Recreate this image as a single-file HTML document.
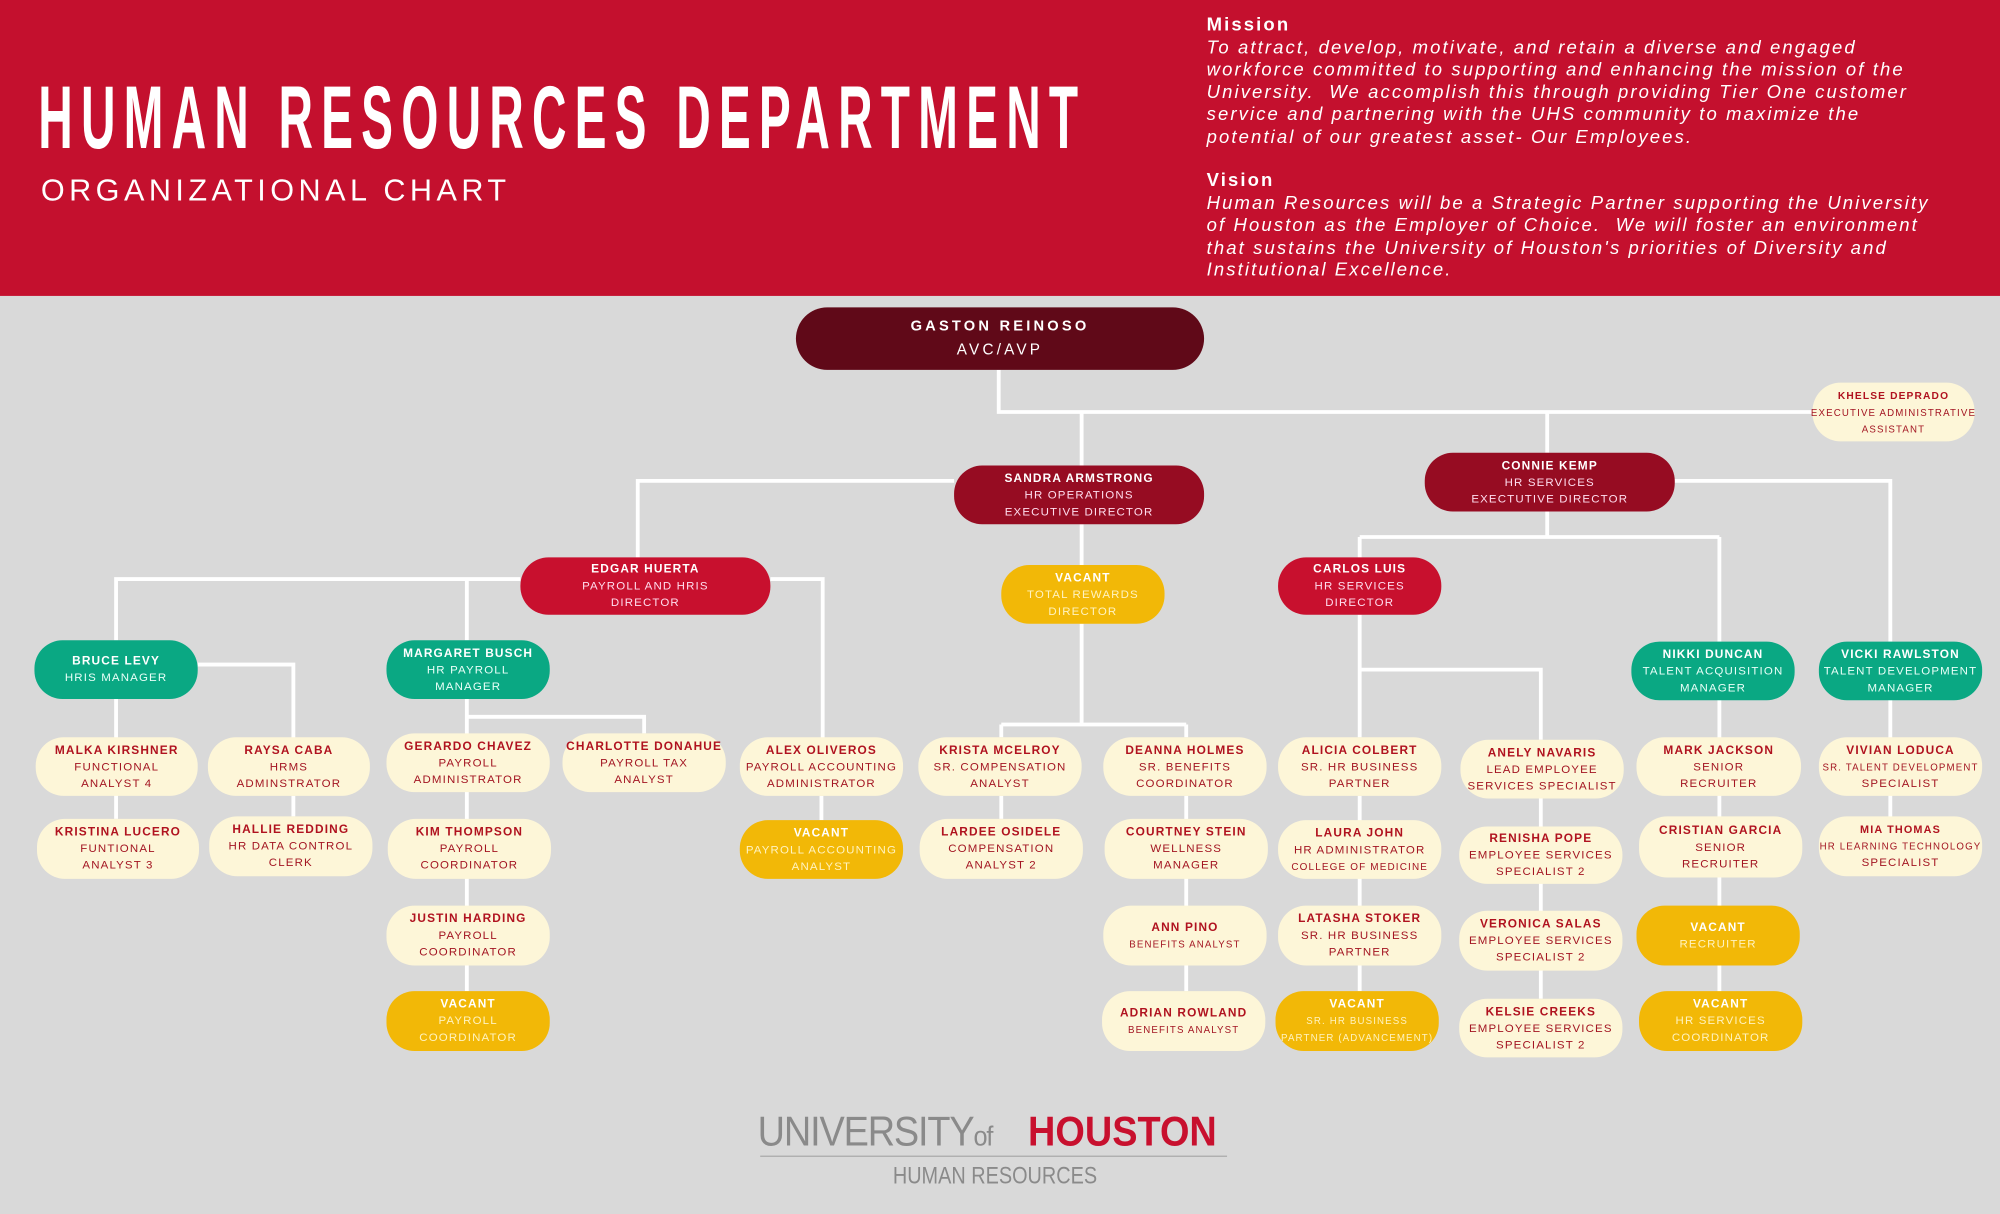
<!DOCTYPE html>
<html><head><meta charset="utf-8">
<style>
html,body{margin:0;padding:0;width:2000px;height:1214px;overflow:hidden;background:#d9d9d9}
#w{position:absolute;left:0;top:0;width:1568px;height:952px;transform:scale(1.27551);transform-origin:0 0;font-family:"Liberation Sans",sans-serif}
#hd{position:absolute;left:0;top:0;width:1568px;height:232px;background:#c4102e}
.t1{position:absolute;left:30px;top:52px;font-size:70px;font-weight:bold;color:#fff;letter-spacing:12px;white-space:nowrap;transform:scaleX(0.535);transform-origin:0 0}
.t2{position:absolute;left:32px;top:136px;font-size:24px;color:#fff;letter-spacing:3.5px;white-space:nowrap}
.ms{position:absolute;left:946px;color:#fff;font-size:14.5px;letter-spacing:1.65px;line-height:17.5px;white-space:nowrap}
.ms b{font-style:normal;font-size:14.5px}
.ms i{display:block}
.n{position:absolute;display:flex;flex-direction:column;justify-content:center;align-items:center;text-align:center;border-radius:22px;line-height:13px;white-space:nowrap}
.n b{font-size:9.3px;letter-spacing:0.9px}
.n span{font-size:9px;letter-spacing:0.9px}
.c{background:#fdf6d8;color:#a31522}.c b{color:#b0121f}
.g{background:#f2b807;color:#fff3c0}.g b{color:#fff}
.tl{background:#0aa883;color:#e9fff8}.tl b{color:#fff}
.r{background:#c8102e;color:#fde}.r b{color:#fff}
.m{background:#960c22;color:#fde}.m b{color:#fff}
.sm span{font-size:7.6px}
</style></head><body><div id="w">
<div id="hd">
<div class="t1">HUMAN RESOURCES DEPARTMENT</div>
<div class="t2">ORGANIZATIONAL CHART</div>
<div class="ms" style="top:12px"><b>Mission</b>
<i>To attract, develop, motivate, and retain a diverse and engaged</i>
<i>workforce committed to supporting and enhancing the mission of the</i>
<i>University.&nbsp; We accomplish this through providing Tier One customer</i>
<i>service and partnering with the UHS community to maximize the</i>
<i>potential of our greatest asset- Our Employees.</i></div>
<div class="ms" style="top:134px"><b>Vision</b>
<i>Human Resources will be a Strategic Partner supporting the University</i>
<i>of Houston as the Employer of Choice.&nbsp; We will foster an environment</i>
<i>that sustains the University of Houston's priorities of Diversity and</i>
<i>Institutional Excellence.</i></div>
</div>
<svg style="position:absolute;left:0;top:0" width="1568" height="952" fill="none" stroke="#fff" stroke-width="3">
<path d="M783 290V323H1422M848 323V365M1213 323V355"/>
<path d="M748 377H500V437M848 411V443M848 489V568M785 568H930M785 568V578M930 568V578"/>
<path d="M1313 377H1482V503M1213 401V421M1066 421H1348M1066 421V437M1348 421V503"/>
<path d="M1066 482V578M1066 525H1208V580M1066 624V777M1208 626V783"/>
<path d="M1348 548V778M1482 548V642M930 624V777M785 624V642M644 624V643"/>
<path d="M408 454H91V502M366 454V502M604 454H645V580"/>
<path d="M155 521H230V580M230 624V640M91 548V642"/>
<path d="M366 548V777M366 562H505V575"/>
</svg>
<div class="n" style="left:624px;top:241px;width:320px;height:49px;border-radius:25px;background:#600918;color:#fff"><b style="font-size:11.5px;letter-spacing:2.5px">GASTON REINOSO</b><span style="font-size:12px;letter-spacing:2.5px;margin-top:5px">AVC/AVP</span></div>
<div class="n c sm" style="left:1421px;top:300px;width:127px;height:46px"><b style="font-size:8px">KHELSE DEPRADO</b><span>EXECUTIVE ADMINISTRATIVE</span><span>ASSISTANT</span></div>
<div class="n m" style="left:748px;top:365px;width:196px;height:46px"><b>SANDRA ARMSTRONG</b><span>HR OPERATIONS</span><span>EXECUTIVE DIRECTOR</span></div>
<div class="n m" style="left:1117px;top:355px;width:196px;height:46px"><b>CONNIE KEMP</b><span>HR SERVICES</span><span>EXECTUTIVE DIRECTOR</span></div>
<div class="n r" style="left:408px;top:437px;width:196px;height:45px"><b>EDGAR HUERTA</b><span>PAYROLL AND HRIS</span><span>DIRECTOR</span></div>
<div class="n g" style="left:785px;top:443px;width:128px;height:46px"><b>VACANT</b><span>TOTAL REWARDS</span><span>DIRECTOR</span></div>
<div class="n r" style="left:1002px;top:437px;width:128px;height:45px"><b>CARLOS LUIS</b><span>HR SERVICES</span><span>DIRECTOR</span></div>
<div class="n tl" style="left:27px;top:502px;width:128px;height:46px"><b>BRUCE LEVY</b><span>HRIS MANAGER</span></div>
<div class="n tl" style="left:303px;top:502px;width:128px;height:46px"><b>MARGARET BUSCH</b><span>HR PAYROLL</span><span>MANAGER</span></div>
<div class="n tl" style="left:1279px;top:503px;width:128px;height:46px"><b>NIKKI DUNCAN</b><span>TALENT ACQUISITION</span><span>MANAGER</span></div>
<div class="n tl" style="left:1426px;top:503px;width:128px;height:46px"><b>VICKI RAWLSTON</b><span>TALENT DEVELOPMENT</span><span>MANAGER</span></div>

<div class="n c" style="left:28px;top:578px;width:127px;height:46px"><b>MALKA KIRSHNER</b><span>FUNCTIONAL</span><span>ANALYST 4</span></div>
<div class="n c" style="left:163px;top:578px;width:127px;height:46px"><b>RAYSA CABA</b><span>HRMS</span><span>ADMINSTRATOR</span></div>
<div class="n c" style="left:303px;top:575px;width:128px;height:46px"><b>GERARDO CHAVEZ</b><span>PAYROLL</span><span>ADMINISTRATOR</span></div>
<div class="n c" style="left:441px;top:575px;width:128px;height:46px"><b>CHARLOTTE DONAHUE</b><span>PAYROLL TAX</span><span>ANALYST</span></div>
<div class="n c" style="left:580px;top:578px;width:128px;height:46px"><b>ALEX OLIVEROS</b><span>PAYROLL ACCOUNTING</span><span>ADMINISTRATOR</span></div>
<div class="n c" style="left:720px;top:578px;width:128px;height:46px"><b>KRISTA MCELROY</b><span>SR. COMPENSATION</span><span>ANALYST</span></div>
<div class="n c" style="left:865px;top:578px;width:128px;height:46px"><b>DEANNA HOLMES</b><span>SR. BENEFITS</span><span>COORDINATOR</span></div>
<div class="n c" style="left:1002px;top:578px;width:128px;height:46px"><b>ALICIA COLBERT</b><span>SR. HR BUSINESS</span><span>PARTNER</span></div>
<div class="n c" style="left:1145px;top:580px;width:128px;height:46px"><b>ANELY NAVARIS</b><span>LEAD EMPLOYEE</span><span>SERVICES SPECIALIST</span></div>
<div class="n c" style="left:1283px;top:578px;width:129px;height:46px"><b>MARK JACKSON</b><span>SENIOR</span><span>RECRUITER</span></div>
<div class="n c sm" style="left:1426px;top:578px;width:128px;height:46px"><b>VIVIAN LODUCA</b><span>SR. TALENT DEVELOPMENT</span><span style="font-size:9px">SPECIALIST</span></div>

<div class="n c" style="left:29px;top:642px;width:127px;height:47px"><b>KRISTINA LUCERO</b><span>FUNTIONAL</span><span>ANALYST 3</span></div>
<div class="n c" style="left:164px;top:640px;width:128px;height:47px"><b>HALLIE REDDING</b><span>HR DATA CONTROL</span><span>CLERK</span></div>
<div class="n c" style="left:304px;top:642px;width:128px;height:47px"><b>KIM THOMPSON</b><span>PAYROLL</span><span>COORDINATOR</span></div>
<div class="n g" style="left:580px;top:643px;width:128px;height:46px"><b>VACANT</b><span>PAYROLL ACCOUNTING</span><span>ANALYST</span></div>
<div class="n c" style="left:721px;top:642px;width:128px;height:47px"><b>LARDEE OSIDELE</b><span>COMPENSATION</span><span>ANALYST 2</span></div>
<div class="n c" style="left:866px;top:642px;width:128px;height:47px"><b>COURTNEY STEIN</b><span>WELLNESS</span><span>MANAGER</span></div>
<div class="n c" style="left:1002px;top:643px;width:128px;height:46px"><b>LAURA JOHN</b><span>HR ADMINISTRATOR</span><span style="font-size:7.8px">COLLEGE OF MEDICINE</span></div>
<div class="n c" style="left:1144px;top:648px;width:128px;height:45px"><b>RENISHA POPE</b><span>EMPLOYEE SERVICES</span><span>SPECIALIST 2</span></div>
<div class="n c" style="left:1285px;top:640px;width:128px;height:48px"><b>CRISTIAN GARCIA</b><span>SENIOR</span><span>RECRUITER</span></div>
<div class="n c sm" style="left:1426px;top:640px;width:128px;height:47px"><b style="font-size:8.5px">MIA THOMAS</b><span>HR LEARNING TECHNOLOGY</span><span style="font-size:9px">SPECIALIST</span></div>

<div class="n c" style="left:303px;top:710px;width:128px;height:47px"><b>JUSTIN HARDING</b><span>PAYROLL</span><span>COORDINATOR</span></div>
<div class="n c sm" style="left:865px;top:710px;width:128px;height:47px"><b>ANN PINO</b><span>BENEFITS ANALYST</span></div>
<div class="n c" style="left:1002px;top:710px;width:128px;height:47px"><b>LATASHA STOKER</b><span>SR. HR BUSINESS</span><span>PARTNER</span></div>
<div class="n c" style="left:1144px;top:714px;width:128px;height:47px"><b>VERONICA SALAS</b><span>EMPLOYEE SERVICES</span><span>SPECIALIST 2</span></div>
<div class="n g" style="left:1283px;top:710px;width:128px;height:47px"><b>VACANT</b><span>RECRUITER</span></div>

<div class="n g" style="left:303px;top:777px;width:128px;height:47px"><b>VACANT</b><span>PAYROLL</span><span>COORDINATOR</span></div>
<div class="n c sm" style="left:864px;top:777px;width:128px;height:47px"><b>ADRIAN ROWLAND</b><span>BENEFITS ANALYST</span></div>
<div class="n g sm" style="left:1000px;top:777px;width:128px;height:47px"><b>VACANT</b><span>SR. HR BUSINESS</span><span>PARTNER (ADVANCEMENT)</span></div>
<div class="n c" style="left:1144px;top:783px;width:128px;height:46px"><b>KELSIE CREEKS</b><span>EMPLOYEE SERVICES</span><span>SPECIALIST 2</span></div>
<div class="n g" style="left:1285px;top:777px;width:128px;height:47px"><b>VACANT</b><span>HR SERVICES</span><span>COORDINATOR</span></div>

<div style="position:absolute;left:594px;top:868px;white-space:nowrap;color:#8a8a8a;font-size:33px;letter-spacing:-1px;transform:scaleX(0.9);transform-origin:0 0">UNIVERSITY<span style="font-size:22px">of</span></div>
<div style="position:absolute;left:806px;top:868px;white-space:nowrap;color:#c8102e;font-size:33px;font-weight:bold;transform:scaleX(0.9);transform-origin:0 0">HOUSTON</div>
<div style="position:absolute;left:596px;top:906px;width:366px;height:1px;background:#aaa"></div>
<div style="position:absolute;left:700px;top:912px;white-space:nowrap;color:#8a8a8a;font-size:19px;transform:scaleX(0.82);transform-origin:0 0">HUMAN RESOURCES</div>
</div></body></html>
